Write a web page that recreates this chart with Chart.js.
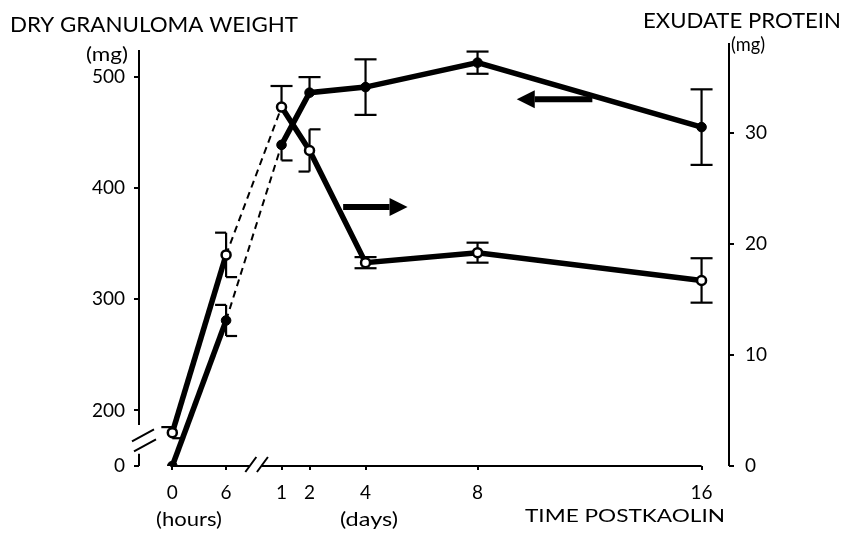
<!DOCTYPE html>
<html>
<head>
<meta charset="utf-8">
<script src="https://cdn.jsdelivr.net/npm/chart.js@4.4.1/dist/chart.umd.min.js"></script>
<style>
  html, body { margin: 0; padding: 0; background: #fff; }
  #wrap { width: 846px; height: 535px; position: relative; }
</style>
</head>
<body>
<div id="wrap"><canvas id="chart"></canvas></div>
<script>
// Time points: the first two are hours, the rest are days
const hours = [0, 6];
const days = [1, 2, 4, 8, 16];
const timeTickLabels = ["0", "6", "1", "2", "4", "8", "16"];

// Dry granuloma weight (mg) - left axis, filled circles
const granulomaWeight = [0, 281, 439, 486, 491, 513, 455];
const granulomaErr = [0, 14, 14, 14, 25, 10, 34];
// error bar caps "top-bottom": L / R = half cap on that side, F = full cap, empty = none
const granulomaCaps = ["", "L-R", "-R", "F-", "F-F", "F-F", "F-F"];

// Exudate protein (mg) - right axis, open circles
const exudateProtein = [3.0, 19.0, 32.3, 28.4, 18.3, 19.2, 16.7];
const exudateErr = [0.5, 2.0, 1.9, 1.9, 0.5, 0.9, 2.0];
const exudateCaps = ["L-R", "L-R", "F-", "R-L", "F-F", "F-F", "F-F"];

const leftTicks = [0, 200, 300, 400, 500];
const rightTicks = [0, 10, 20, 30];

// Arrows telling which axis each curve belongs to (time in days, value in mg)
const weightArrow = { from: 12.1, to: 9.4, value: 480 };
const proteinArrow = { from: 3.2, to: 5.5, value: 23.3 };

// The hour section is squeezed in left of the time break (axis value 0)
const hourToAxis = (h) => -2.9 + h * 0.32;
const timeAxis = hours.map(hourToAxis).concat(days);

// Left axis is broken between 0 and 200 mg
const weightToAxis = (v) => (v === 0 ? 0 : v - 150);
const leftBreak = [11, 37];   // gap in the left axis line (axis units)
const timeBreak = [-0.15, 0.3];  // gap in the time axis line (axis units)

const FONT = "Lato, 'Open Sans', sans-serif";

const weightPoints = granulomaWeight.map((v, i) => ({ x: timeAxis[i], y: weightToAxis(v) }));
const proteinPoints = exudateProtein.map((v, i) => ({ x: timeAxis[i], y: v }));

// 6 h -> 1 day segment is a thin dashed line
const dashedSegment = {
  borderDash: (ctx) => (ctx.p0DataIndex === 1 ? [7, 5] : undefined),
  borderWidth: (ctx) => (ctx.p0DataIndex === 1 ? 2 : undefined)
};

function drawCap(ctx, px, y, side) {
  const half = 11;
  let x0 = px - half, x1 = px + half;
  if (side === "L") x1 = px;
  if (side === "R") x0 = px;
  ctx.beginPath();
  ctx.moveTo(x0, y);
  ctx.lineTo(x1, y);
  ctx.stroke();
}

function drawErrorBars(ctx, xScale, yScale, values, errs, caps, toAxis) {
  values.forEach((v, i) => {
    if (!caps[i]) return;
    const [top, bottom] = caps[i].split("-");
    const px = xScale.getPixelForValue(timeAxis[i]);
    const py = yScale.getPixelForValue(toAxis(v));
    if (top) {
      const yt = yScale.getPixelForValue(toAxis(v + errs[i]));
      ctx.beginPath(); ctx.moveTo(px, py); ctx.lineTo(px, yt); ctx.stroke();
      drawCap(ctx, px, yt, top);
    }
    if (bottom) {
      const yb = yScale.getPixelForValue(toAxis(v - errs[i]));
      ctx.beginPath(); ctx.moveTo(px, py); ctx.lineTo(px, yb); ctx.stroke();
      drawCap(ctx, px, yb, bottom);
    }
  });
}

function drawArrow(ctx, x0, x1, y) {
  const dir = Math.sign(x1 - x0);
  const headLen = 18;
  ctx.beginPath();
  ctx.moveTo(x0, y);
  ctx.lineTo(x1 - dir * headLen, y);
  ctx.lineWidth = 6;
  ctx.stroke();
  ctx.beginPath();
  ctx.moveTo(x1, y);
  ctx.lineTo(x1 - dir * headLen, y - 9);
  ctx.lineTo(x1 - dir * headLen, y + 9);
  ctx.closePath();
  ctx.fill();
}

// text squeezed or stretched to a given width, like the lettering of the original
function fitText(ctx, text, x, y, width, size) {
  ctx.save();
  ctx.font = `${size}px ${FONT}`;
  const w = ctx.measureText(text).width;
  ctx.translate(x, y);
  ctx.scale(width / w, 1);
  ctx.fillText(text, 0, 0);
  ctx.restore();
}

const decorations = {
  id: "decorations",
  beforeDatasetsDraw(chart) {
    const { ctx, chartArea: area } = chart;
    const { x, yL, yR } = chart.scales;
    ctx.save();
    ctx.strokeStyle = "#000";
    ctx.fillStyle = "#000";
    ctx.lineWidth = 2;

    // left axis with its break
    const lx = area.left;
    const bTop = yL.getPixelForValue(leftBreak[1]);
    const bBot = yL.getPixelForValue(leftBreak[0]);
    ctx.beginPath();
    ctx.moveTo(lx, area.top + 4); ctx.lineTo(lx, bTop);
    ctx.moveTo(lx, bBot); ctx.lineTo(lx, area.bottom);
    ctx.stroke();
    const bMid = (bTop + bBot) / 2;
    ctx.beginPath();
    ctx.moveTo(lx - 7, bMid + 2); ctx.lineTo(lx + 15, bMid - 10);
    ctx.moveTo(lx - 5, bMid + 12); ctx.lineTo(lx + 17, bMid);
    ctx.stroke();

    // right axis
    ctx.beginPath();
    ctx.moveTo(area.right, area.top - 3); ctx.lineTo(area.right, area.bottom);
    ctx.stroke();

    // time axis with its break
    const y0 = area.bottom;
    const t0 = x.getPixelForValue(timeAxis[0]) - 2;
    const g0 = x.getPixelForValue(timeBreak[0]);
    const g1 = x.getPixelForValue(timeBreak[1]);
    const tEnd = x.getPixelForValue(days[days.length - 1]);
    ctx.beginPath();
    ctx.moveTo(t0, y0); ctx.lineTo(g0, y0);
    ctx.moveTo(g1, y0); ctx.lineTo(tEnd, y0);
    ctx.stroke();
    ctx.beginPath();
    ctx.moveTo(g0 - 4, y0 + 6); ctx.lineTo(g0 + 7, y0 - 9);
    ctx.moveTo(g1 - 5, y0 + 6); ctx.lineTo(g1 + 6, y0 - 9);
    ctx.stroke();

    // error bars
    ctx.lineWidth = 2.2;
    drawErrorBars(ctx, x, yL, granulomaWeight, granulomaErr, granulomaCaps, weightToAxis);
    drawErrorBars(ctx, x, yR, exudateProtein, exudateErr, exudateCaps, (v) => v);

    // arrows
    drawArrow(ctx, x.getPixelForValue(weightArrow.from), x.getPixelForValue(weightArrow.to),
      yL.getPixelForValue(weightToAxis(weightArrow.value)));
    drawArrow(ctx, x.getPixelForValue(proteinArrow.from), x.getPixelForValue(proteinArrow.to),
      yR.getPixelForValue(proteinArrow.value));
    ctx.restore();
  },
  afterDraw(chart) {
    const { ctx } = chart;
    ctx.save();
    ctx.fillStyle = "#000";
    ctx.textBaseline = "alphabetic";
    fitText(ctx, "DRY GRANULOMA WEIGHT", 10, 32, 288, 21);
    fitText(ctx, "(mg)", 86, 61, 42, 19);
    fitText(ctx, "EXUDATE PROTEIN", 643, 28, 198, 21);
    fitText(ctx, "(mg)", 731, 51, 34, 19);
    fitText(ctx, "(hours)", 156, 526, 66, 19);
    fitText(ctx, "(days)", 340, 526, 58, 19);
    fitText(ctx, "TIME POSTKAOLIN", 525, 522, 200, 18);
    ctx.restore();
  }
};

const tickFont = { family: FONT, size: 19 };

new Chart(document.getElementById("chart"), {
  type: "line",
  data: {
    datasets: [
      {
        label: "Exudate protein",
        data: proteinPoints,
        yAxisID: "yR",
        borderColor: "#000",
        borderWidth: 5.5,
        pointRadius: 4.5,
        pointBorderWidth: 2.5,
        pointBackgroundColor: "#fff",
        pointBorderColor: "#000",
        tension: 0,
        segment: dashedSegment
      },
      {
        label: "Dry granuloma weight",
        data: weightPoints,
        yAxisID: "yL",
        borderColor: "#000",
        borderWidth: 5.5,
        pointRadius: 4.8,
        pointBorderWidth: 1,
        pointBackgroundColor: "#000",
        pointBorderColor: "#000",
        tension: 0,
        segment: dashedSegment
      }
    ]
  },
  options: {
    responsive: true,
    maintainAspectRatio: false,
    animation: false,
    layout: { padding: { top: 46, left: 0, right: 0, bottom: 0 } },
    plugins: {
      legend: { display: false },
      tooltip: { enabled: false }
    },
    scales: {
      x: {
        type: "linear",
        min: -4.09,
        max: 16.98,
        afterFit(s) { s.height = 69; },
        afterBuildTicks(s) { s.ticks = timeAxis.map((v) => ({ value: v })); },
        ticks: {
          callback: (v, i) => timeTickLabels[i],
          font: tickFont,
          color: "#000",
          padding: 11,
          maxRotation: 0,
          autoSkip: false
        },
        grid: { drawOnChartArea: false, drawTicks: true, tickLength: 4, color: "#000", lineWidth: 2 },
        border: { display: false }
      },
      yL: {
        type: "linear",
        position: "left",
        min: 0,
        max: 378,
        afterFit(s) { s.width = 139; },
        afterBuildTicks(s) { s.ticks = leftTicks.map((v) => ({ value: weightToAxis(v) })); },
        ticks: {
          callback: (v, i) => String(leftTicks[i]),
          font: tickFont,
          color: "#000",
          padding: 9
        },
        grid: { drawOnChartArea: false, drawTicks: true, tickLength: 5, color: "#000", lineWidth: 2 },
        border: { display: false }
      },
      yR: {
        type: "linear",
        position: "right",
        min: 0,
        max: 37.8,
        afterFit(s) { s.width = 117; },
        afterBuildTicks(s) { s.ticks = rightTicks.map((v) => ({ value: v })); },
        ticks: {
          callback: (v, i) => String(rightTicks[i]),
          font: tickFont,
          color: "#000",
          padding: 11
        },
        grid: { drawOnChartArea: false, drawTicks: true, tickLength: 5, color: "#000", lineWidth: 2 },
        border: { display: false }
      }
    }
  },
  plugins: [decorations]
});
</script>
</body>
</html>
